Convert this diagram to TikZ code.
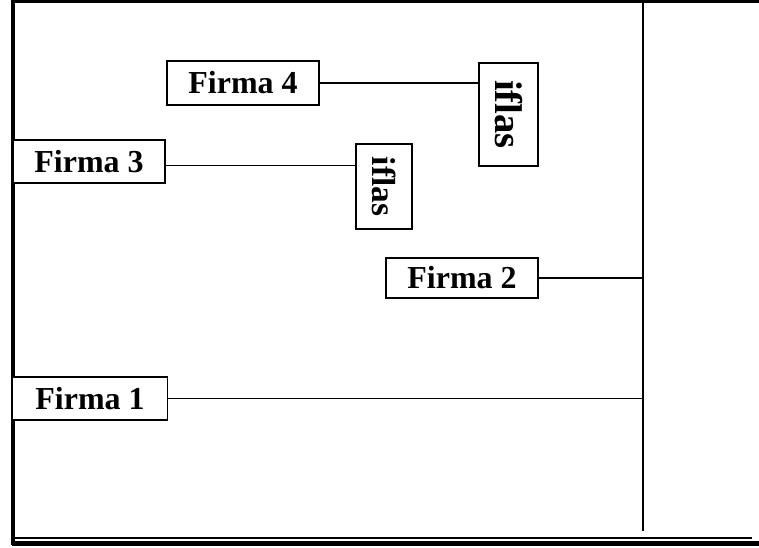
\documentclass[tikz,border=0pt]{standalone}
\usepackage{fontspec}
\setmainfont{Liberation Serif}
\begin{document}
\begin{tikzpicture}[x=0.75pt,y=-0.75pt,
  firmbox/.style={draw=black,line width=1.2pt,fill=white,inner sep=0pt,font=\fontsize{24}{24}\selectfont\bfseries},
  vbox/.style={draw=black,line width=1pt,fill=white,inner sep=0pt},
  conn/.style={line width=1.4pt}]
\useasboundingbox (0,0) rectangle (759,548);
% frame
\draw[line width=1.6pt] (12,1.5) -- (759,1.5);
\draw[line width=3.3pt] (13,0) -- (13,545);
\draw[line width=1.1pt] (13,538) -- (752,538);
\draw[line width=3.3pt] (11.5,543.5) -- (759,543.5);
\coordinate (spineTop) at (643,1.5);
\coordinate (spineBot) at (643,531);
\draw[line width=1.6pt] (spineTop) -- (spineBot);
% nodes
\node[firmbox,minimum width=155*0.75pt,minimum height=43*0.75pt] (f1) at (90,398.5) {Firma 1};
\node[firmbox,minimum width=152*0.75pt,minimum height=40*0.75pt] (f2) at (462,278) {Firma 2};
\node[firmbox,minimum width=152*0.75pt,minimum height=43*0.75pt] (f3) at (89,161.5) {Firma 3};
\node[firmbox,minimum width=152*0.75pt,minimum height=44*0.75pt] (f4) at (243,83) {Firma 4};
\node[vbox,minimum width=59*0.75pt,minimum height=103*0.75pt] (ia) at (508.5,114.5) {};
\node[rotate=-90,font=\fontsize{29}{29}\selectfont\bfseries] at (ia.center) {iflas};
\node[vbox,minimum width=56*0.75pt,minimum height=85*0.75pt] (ib) at (384,186.5) {};
\node[rotate=-90,font=\fontsize{25}{25}\selectfont\bfseries] at (ib.center) {iflas};
% connectors
\draw[conn] (f1.east) -- (f1.east -| spineTop);
\draw[conn] (f2.east) -- (f2.east -| spineTop);
\draw[conn] ([yshift=-3pt]f3.east) -- ([yshift=-3pt]f3.east -| ib.west);
\draw[conn] (f4.east) -- (f4.east -| ia.west);
\end{tikzpicture}
\end{document}
